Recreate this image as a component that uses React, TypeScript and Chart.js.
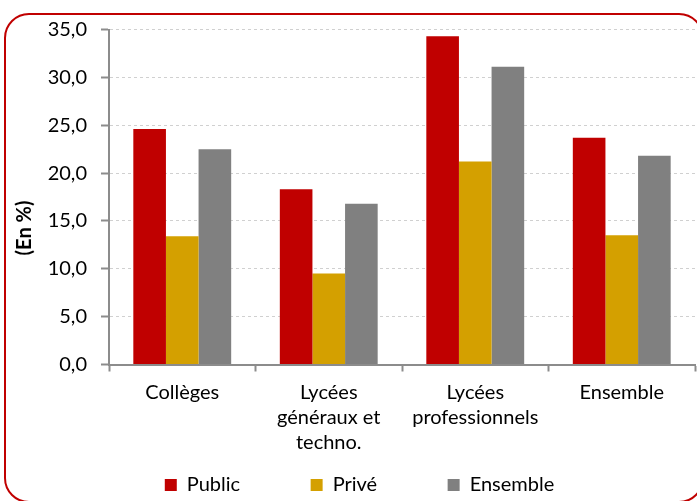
import React, { useEffect, useRef } from "react";
import { Chart, registerables } from "chart.js";

Chart.register(...registerables);

const categories: (string | string[])[] = [
  "Collèges",
  ["Lycées", "généraux et", "techno."],
  ["Lycées", "professionnels"],
  "Ensemble",
];
const publicValues = [24.6, 18.3, 34.3, 23.7];
const priveValues = [13.4, 9.5, 21.2, 13.5];
const ensembleValues = [22.5, 16.8, 31.1, 21.8];
const seriesLabels = ["Public", "Privé", "Ensemble"];
const yAxisTitle = "(En %)";

const FONT = "Lato";
const CANVAS_H = 505;
const LEGEND_PAD = 70.5;
const LEGEND_H_TRUE = 100.5;
const LEGEND_H_LAYOUT = 40;

const yTitlePlugin = {
  id: "yTitleCustom",
  afterDraw(chart: any) {
    const ctx = chart.ctx;
    ctx.save();
    ctx.font = `bold 20px ${FONT}`;
    ctx.fillStyle = "#000";
    ctx.textAlign = "center";
    ctx.textBaseline = "middle";
    ctx.translate(25, 228);
    ctx.rotate(-Math.PI / 2);
    ctx.fillText(yAxisTitle, 0, 0);
    ctx.restore();
  },
};

const legendPlacePlugin = {
  id: "legendPlace",
  afterLayout(chart: any) {
    const lg = chart.legend;
    if (!lg) return;
    lg.top = CANVAS_H - LEGEND_H_TRUE;
    lg.bottom = CANVAS_H;
    lg.height = LEGEND_H_TRUE;
  },
};

export default function App() {
  const ref = useRef<HTMLCanvasElement | null>(null);

  useEffect(() => {
    if (!ref.current) return;
    const chart = new Chart(ref.current, {
      type: "bar",
      data: {
        labels: categories,
        datasets: [
          { label: seriesLabels[0], data: publicValues, backgroundColor: "#c00000" },
          { label: seriesLabels[1], data: priveValues, backgroundColor: "#d4a000" },
          { label: seriesLabels[2], data: ensembleValues, backgroundColor: "#808080" },
        ],
      },
      options: {
        animation: false,
        responsive: false,
        maintainAspectRatio: false,
        layout: { padding: { left: 24, right: 2, top: 29.5, bottom: 0 } },
        datasets: {
          bar: { categoryPercentage: 0.668, barPercentage: 1 },
        },
        plugins: {
          legend: {
            position: "bottom",
            maxHeight: LEGEND_H_LAYOUT,
            labels: {
              boxWidth: 12,
              boxHeight: 12,
              padding: LEGEND_PAD,
              color: "#000",
              font: { family: FONT, size: 20 },
            },
          },
          tooltip: { enabled: false },
        },
        scales: {
          x: {
            offset: true,
            grid: {
              offset: true,
              drawOnChartArea: false,
              drawTicks: true,
              tickLength: 7,
              tickColor: "#8c8c8c",
              tickWidth: 2,
            },
            border: { color: "#8c8c8c", width: 2 },
            ticks: {
              color: "#000",
              padding: 9,
              maxRotation: 0,
              autoSkip: false,
              font: { family: FONT, size: 20, lineHeight: 1.25 },
            },
            afterFit: (scale: any) => {
              scale.height = CANVAS_H - LEGEND_H_LAYOUT - 364.5;
            },
          },
          y: {
            min: 0,
            max: 35,
            ticks: {
              stepSize: 5,
              color: "#000",
              padding: 14,
              font: { family: FONT, size: 20 },
              callback: (v: any) => Number(v).toFixed(1).replace(".", ","),
            },
            grid: {
              color: "#d0d0d0",
              lineWidth: 1,
              tickLength: 8,
              tickColor: "#8c8c8c",
              tickWidth: 2,
              tickBorderDash: [],
            } as any,
            border: { color: "#8c8c8c", width: 2, dash: [3, 3] },
            afterFit: (scale: any) => {
              scale.width = 85;
            },
          },
        },
      } as any,
      plugins: [yTitlePlugin, legendPlacePlugin],
    });
    return () => chart.destroy();
  }, []);

  return (
    <div
      style={{
        position: "fixed",
        left: 0,
        top: 0,
        width: 697,
        height: 501,
        overflow: "hidden",
        background: "#fff",
      }}
    >
      <div
        style={{
          position: "absolute",
          left: 4,
          top: 13,
          width: 700,
          height: 490,
          border: "2px solid #c00000",
          borderRadius: 25,
          boxSizing: "border-box",
        }}
      />
      <canvas
        ref={ref}
        width={697}
        height={CANVAS_H}
        style={{ position: "absolute", left: 0, top: 0, width: 697, height: CANVAS_H }}
      />
    </div>
  );
}
